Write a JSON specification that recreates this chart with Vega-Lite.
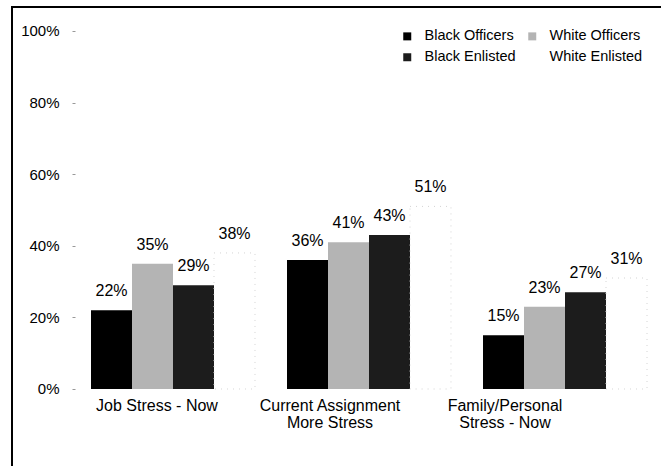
{
  "$schema": "https://vega.github.io/schema/vega-lite/v6.json",
  "autosize": "none",
  "width": 664,
  "height": 474,
  "padding": {"left": 12, "top": 7, "right": -15, "bottom": -15},
  "background": "white",
  "config": {
    "font": "Liberation Sans",
    "view": {"stroke": "black", "strokeWidth": 2, "fill": "white"}
  },
  "data": {
    "values": [
      {"group": "Job Stress - Now", "series": "Black Officers", "value": 22},
      {"group": "Job Stress - Now", "series": "White Officers", "value": 35},
      {"group": "Job Stress - Now", "series": "Black Enlisted", "value": 29},
      {"group": "Job Stress - Now", "series": "White Enlisted", "value": 38},
      {"group": "Current Assignment More Stress", "series": "Black Officers", "value": 36},
      {"group": "Current Assignment More Stress", "series": "White Officers", "value": 41},
      {"group": "Current Assignment More Stress", "series": "Black Enlisted", "value": 43},
      {"group": "Current Assignment More Stress", "series": "White Enlisted", "value": 51},
      {"group": "Family/Personal Stress - Now", "series": "Black Officers", "value": 15},
      {"group": "Family/Personal Stress - Now", "series": "White Officers", "value": 23},
      {"group": "Family/Personal Stress - Now", "series": "Black Enlisted", "value": 27},
      {"group": "Family/Personal Stress - Now", "series": "White Enlisted", "value": 31}
    ]
  },
  "encoding": {
    "x": {
      "field": "group",
      "type": "nominal",
      "sort": null,
      "scale": {"type": "band", "paddingInner": 0.1633, "paddingOuter": 0.2755, "align": 0.7315},
      "axis": {
        "title": null,
        "orient": "bottom",
        "offset": -91,
        "domain": false,
        "ticks": false,
        "labelAngle": 0,
        "labelFontSize": 16,
        "labelColor": "black",
        "labelPadding": 7,
        "labelLineHeight": 17,
        "labelBaseline": "top",
        "labelExpr": "datum.value == 'Current Assignment More Stress' ? ['Current Assignment', 'More Stress'] : datum.value == 'Family/Personal Stress - Now' ? ['Family/Personal', 'Stress - Now'] : datum.value",
        "labelOffset": {
          "condition": [
            {"test": "datum.value == 'Job Stress - Now'", "value": -16},
            {"test": "datum.value == 'Current Assignment More Stress'", "value": -39}
          ],
          "value": -60
        }
      }
    },
    "xOffset": {
      "field": "series",
      "type": "nominal",
      "sort": ["Black Officers", "White Officers", "Black Enlisted", "White Enlisted"],
      "scale": {"paddingInner": 0, "paddingOuter": 0}
    },
    "y": {
      "field": "value",
      "type": "quantitative",
      "scale": {"domain": [-25.7, 106.7], "nice": false, "zero": false},
      "axis": {
        "title": null,
        "orient": "left",
        "offset": -63,
        "values": [0, 20, 40, 60, 80, 100],
        "labelExpr": "datum.value + '%'",
        "domain": false,
        "grid": false,
        "ticks": true,
        "tickSize": 3,
        "tickColor": "#999",
        "tickWidth": 1,
        "labelFontSize": 15,
        "labelColor": "black",
        "labelPadding": 13,
        "labelBaseline": "middle"
      }
    }
  },
  "layer": [
    {
      "mark": {"type": "bar"},
      "encoding": {
        "y2": {"datum": 0},
        "color": {
          "field": "series",
          "type": "nominal",
          "sort": ["Black Officers", "White Officers", "Black Enlisted", "White Enlisted"],
          "scale": {
            "domain": ["Black Officers", "White Officers", "Black Enlisted", "White Enlisted"],
            "range": ["#000000", "#b4b4b4", "#1c1c1c", "#ffffff"]
          },
          "legend": {
            "title": null,
            "orient": "none",
            "legendX": 388,
            "legendY": 22,
            "direction": "horizontal",
            "columns": 2,
            "columnPadding": 9,
            "rowPadding": 6,
            "symbolType": "square",
            "symbolSize": 64,
            "symbolStrokeWidth": 0,
            "symbolOpacity": 1,
            "labelFontSize": 14.5,
            "labelColor": "black",
            "labelOffset": 10
          }
        },
        "stroke": {
          "condition": {"test": "datum.series == 'White Enlisted'", "value": "#d4d4d4"},
          "value": null
        },
        "strokeDash": {
          "condition": {"test": "datum.series == 'White Enlisted'", "value": [1, 5]},
          "value": [1, 0]
        }
      }
    },
    {
      "transform": [{"calculate": "datum.value + '%'", "as": "label"}],
      "mark": {"type": "text", "baseline": "middle", "align": "center", "dy": -19, "fontSize": 16, "color": "black"},
      "encoding": {
        "text": {"field": "label", "type": "nominal"},
        "detail": {"field": "series"}
      }
    }
  ]
}
